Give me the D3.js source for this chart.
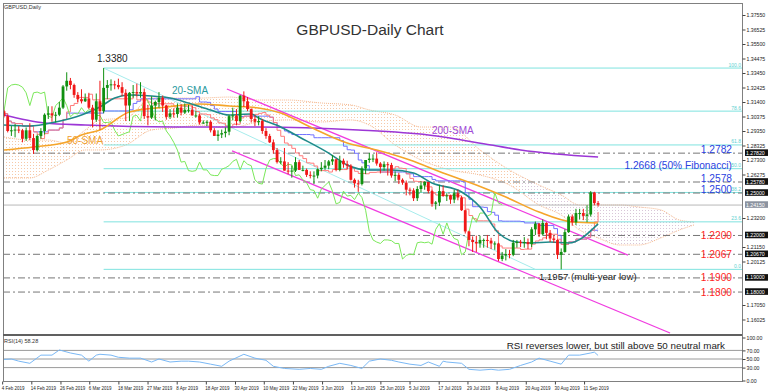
<!DOCTYPE html>
<html><head><meta charset="utf-8">
<script src="https://cdn.jsdelivr.net/npm/d3@7"></script>
<style>
body{margin:0;background:#fff}
svg{display:block;font-family:"Liberation Sans",Arial,sans-serif}
</style></head>
<body><svg id="c" width="768" height="392"></svg>
<script>
// ---------- DATA (GBPUSD daily, 4 Feb 2019 - 17 Sep 2019) ----------
const open = [1.3075,1.3040,1.2935,1.2940,1.2945,1.2940,1.2880,1.2940,1.2885,1.2800,
1.2900,1.2935,1.3050,1.3060,1.3045,1.3050,1.3100,1.3250,1.3290,1.3260,
1.3190,1.3160,1.3145,1.3165,1.3100,1.3015,1.3145,1.3075,1.3240,1.3260,
1.3265,1.3260,1.3245,1.3205,1.3115,1.3205,1.3210,1.3200,1.3210,1.3040,
1.3030,1.3115,1.3140,1.3170,1.3115,1.3035,1.3060,1.3055,1.3100,1.3065,
1.3085,1.3085,1.3045,1.3045,1.2995,1.2995,1.3000,1.2940,1.2900,1.2910,
1.2920,1.2930,1.3040,1.3045,1.3005,1.3185,1.3145,1.3090,1.3020,1.3000,
1.3005,1.2935,1.2900,1.2855,1.2800,1.2715,1.2720,1.2655,1.2650,1.2655,
1.2715,1.2660,1.2660,1.2625,1.2620,1.2620,1.2665,1.2675,1.2690,1.2720,
1.2735,1.2660,1.2725,1.2700,1.2690,1.2590,1.2565,1.2560,1.2670,1.2730,
1.2740,1.2740,1.2705,1.2680,1.2700,1.2695,1.2620,1.2625,1.2590,1.2570,
1.2520,1.2515,1.2460,1.2525,1.2550,1.2575,1.2510,1.2420,1.2430,1.2510,
1.2475,1.2480,1.2450,1.2495,1.2465,1.2375,1.2225,1.2165,1.2150,1.2140,
1.2165,1.2165,1.2160,1.2140,1.2140,1.2030,1.2055,1.2065,1.2060,1.2145,
1.2150,1.2145,1.2150,1.2135,1.2240,1.2280,1.2205,1.2285,1.2215,1.2175,
1.2165,1.2060,1.2080,1.2220,1.2330,1.2290,1.2355,1.2355,1.2335,1.2345,
1.2500,1.2425];
const high = [1.3085,1.3050,1.2970,1.2985,1.2970,1.2950,1.2960,1.2990,1.2915,1.2910,
1.2955,1.3060,1.3110,1.3110,1.3070,1.3140,1.3260,1.3350,1.3310,1.3270,
1.3210,1.3230,1.3200,1.3205,1.3120,1.3200,1.3290,1.3380,1.3295,1.3300,
1.3290,1.3305,1.3280,1.3230,1.3210,1.3260,1.3270,1.3280,1.3235,1.3120,
1.3180,1.3150,1.3210,1.3185,1.3120,1.3090,1.3095,1.3130,1.3125,1.3130,
1.3120,1.3115,1.3075,1.3055,1.3010,1.3010,1.3010,1.2955,1.2940,1.2945,
1.2960,1.3050,1.3100,1.3090,1.3190,1.3215,1.3175,1.3095,1.3045,1.3040,
1.3020,1.2955,1.2915,1.2875,1.2815,1.2750,1.2815,1.2715,1.2690,1.2750,
1.2730,1.2690,1.2670,1.2650,1.2650,1.2670,1.2715,1.2730,1.2730,1.2765,
1.2740,1.2760,1.2740,1.2725,1.2700,1.2600,1.2590,1.2685,1.2730,1.2780,
1.2770,1.2785,1.2715,1.2720,1.2715,1.2710,1.2650,1.2640,1.2600,1.2585,
1.2535,1.2530,1.2545,1.2580,1.2580,1.2575,1.2520,1.2440,1.2555,1.2550,
1.2495,1.2485,1.2520,1.2520,1.2475,1.2380,1.2230,1.2190,1.2195,1.2195,
1.2175,1.2200,1.2180,1.2155,1.2145,1.2080,1.2100,1.2095,1.2165,1.2165,
1.2165,1.2185,1.2175,1.2255,1.2295,1.2285,1.2310,1.2290,1.2235,1.2195,
1.2170,1.2105,1.2240,1.2345,1.2345,1.2385,1.2385,1.2385,1.2410,1.2510,
1.2505,1.2440];
const low = [1.3030,1.2925,1.2900,1.2890,1.2920,1.2855,1.2865,1.2870,1.2773,1.2790,
1.2880,1.2910,1.3020,1.3000,1.2995,1.3040,1.3090,1.3220,1.3230,1.3170,
1.3140,1.3130,1.3140,1.3090,1.2960,1.3000,1.2945,1.3060,1.3160,1.3220,
1.3230,1.3230,1.3180,1.3005,1.3005,1.3170,1.3180,1.3170,1.3020,1.2975,
1.3020,1.3010,1.3100,1.3070,1.3015,1.3020,1.3030,1.3030,1.3045,1.3055,
1.3065,1.3045,1.3030,1.2980,1.2985,1.2970,1.2925,1.2900,1.2865,1.2885,
1.2890,1.2905,1.3010,1.2975,1.2995,1.3105,1.3075,1.2995,1.2970,1.2975,
1.2915,1.2880,1.2850,1.2775,1.2705,1.2700,1.2655,1.2630,1.2605,1.2645,
1.2660,1.2650,1.2610,1.2600,1.2560,1.2600,1.2650,1.2660,1.2665,1.2695,
1.2650,1.2650,1.2675,1.2665,1.2585,1.2535,1.2505,1.2550,1.2630,1.2710,
1.2715,1.2690,1.2635,1.2655,1.2620,1.2605,1.2580,1.2560,1.2555,1.2480,
1.2480,1.2440,1.2440,1.2500,1.2520,1.2495,1.2400,1.2380,1.2405,1.2470,
1.2440,1.2420,1.2425,1.2445,1.2370,1.2210,1.2120,1.2080,1.2080,1.2110,
1.2110,1.2110,1.2100,1.2095,1.2015,1.2015,1.2020,1.2035,1.2050,1.2110,
1.2115,1.2110,1.2100,1.2115,1.2200,1.2185,1.2195,1.2170,1.2150,1.2145,
1.2030,1.1957,1.2075,1.2215,1.2265,1.2270,1.2310,1.2305,1.2290,1.2330,
1.2410,1.2400];
const close = [1.3040,1.2935,1.2940,1.2945,1.2940,1.2880,1.2940,1.2885,1.2800,1.2900,
1.2935,1.3050,1.3060,1.3045,1.3050,1.3100,1.3250,1.3290,1.3260,1.3190,
1.3160,1.3145,1.3165,1.3100,1.3015,1.3145,1.3075,1.3240,1.3260,1.3265,
1.3260,1.3245,1.3205,1.3115,1.3205,1.3210,1.3200,1.3210,1.3040,1.3030,
1.3115,1.3140,1.3170,1.3115,1.3035,1.3060,1.3055,1.3100,1.3065,1.3085,
1.3085,1.3045,1.3045,1.2995,1.2995,1.3000,1.2940,1.2900,1.2910,1.2920,
1.2930,1.3040,1.3045,1.3005,1.3185,1.3145,1.3090,1.3020,1.3000,1.3005,
1.2935,1.2900,1.2855,1.2800,1.2715,1.2720,1.2655,1.2650,1.2655,1.2715,
1.2660,1.2660,1.2625,1.2620,1.2620,1.2665,1.2675,1.2690,1.2720,1.2735,
1.2660,1.2725,1.2700,1.2690,1.2590,1.2565,1.2560,1.2670,1.2730,1.2740,
1.2740,1.2705,1.2680,1.2700,1.2695,1.2620,1.2625,1.2590,1.2570,1.2520,
1.2515,1.2460,1.2525,1.2550,1.2575,1.2510,1.2420,1.2430,1.2510,1.2475,
1.2480,1.2450,1.2495,1.2465,1.2375,1.2225,1.2165,1.2150,1.2140,1.2165,
1.2165,1.2160,1.2140,1.2140,1.2030,1.2055,1.2065,1.2060,1.2145,1.2150,
1.2145,1.2150,1.2135,1.2240,1.2280,1.2205,1.2285,1.2215,1.2175,1.2165,
1.2060,1.2080,1.2220,1.2330,1.2290,1.2355,1.2355,1.2335,1.2345,1.2500,
1.2425,1.2415];

// Moving averages: [bar index, price]
const sma20 = [[0,1.2977],[7,1.2970],[14,1.2999],[21,1.3048],[26,1.3105],[30,1.3168],[34,1.3189],[40,1.3182],[45,1.3168],[50,1.3133],[56,1.3083],[61,1.3048],[67,1.3055],[69,1.3027],[75,1.2963],[80,1.2893],[88,1.2779],[93,1.2695],[99,1.2659],[105,1.2659],[111,1.2638],[116,1.2567],[124,1.2504],[129,1.2398],[134,1.2214],[139,1.2150],[143,1.2143],[148,1.2150],[153,1.2143],[161,1.2278]];
const sma50 = [[0,1.2801],[8,1.2822],[17,1.2857],[21,1.2907],[26,1.2942],[34,1.3069],[44,1.3105],[53,1.3126],[61,1.3112],[69,1.3098],[75,1.3062],[83,1.2963],[93,1.2850],[101,1.2801],[110,1.2730],[119,1.2638],[128,1.2553],[136,1.2468],[145,1.2362],[154,1.2292],[161,1.2285]];
const sma200 = [[0,1.3048],[11,1.2992],[22,1.2977],[46,1.2963],[69,1.2963],[96,1.2942],[115,1.2907],[132,1.2836],[140,1.2801],[161,1.2751]];

// Ichimoku cloud
const cloudIdx = [0,7,12,17,22,26,33,40,46,53,61,69,77,86,94,99,106,113,121,129,137,145,151,156,161,167,172,178,183,187];
const spanA = [1.2893,1.2871,1.2871,1.2850,1.2942,1.3013,1.3027,1.3168,1.3168,1.3168,1.3175,1.3154,1.3154,1.3133,1.3119,1.3084,1.3048,1.2963,1.2963,1.2801,1.2659,1.2553,1.2483,1.2412,1.2412,1.2412,1.2398,1.2377,1.2306,1.2292];
const spanB = [1.2603,1.2603,1.2659,1.2730,1.2801,1.2801,1.2836,1.2942,1.2956,1.2977,1.2956,1.2999,1.3013,1.2999,1.3013,1.2977,1.2836,1.2730,1.2659,1.2624,1.2553,1.2412,1.2341,1.2235,1.2179,1.2129,1.2129,1.2179,1.2235,1.2271];
const cloudBearFrom = 140; // bar where the cloud hatch turns thistle

// RSI(14): [bar index, value]
const rsi = [[0,49],[2,50],[4,45],[7,40],[10,59],[13,59],[15,71],[18,64],[21,59],[23,45],[25,59],[26,61],[29,59],[31,54],[34,52],[37,52],[40,43],[42,50],[45,43],[48,45],[50,45],[53,43],[56,38],[59,33],[61,45],[65,61],[68,52],[71,47],[73,33],[76,28],[80,26],[83,28],[86,26],[88,33],[91,40],[94,35],[97,28],[99,45],[102,50],[105,47],[107,43],[110,38],[113,35],[115,43],[118,33],[119,45],[120,43],[124,40],[126,26],[129,24],[132,26],[134,24],[137,26],[140,35],[143,43],[145,52],[148,45],[151,38],[153,59],[156,59],[159,64],[160,66],[161,58.28]];

// Levels & annotations
const fibHigh = 1.3380, fibLow = 1.1957, fibStart = 27;
const fibRatios = [0, 23.6, 38.2, 50.0, 61.8, 78.6, 100.0];
const levels = [1.2782, 1.2578, 1.2500, 1.2200, 1.2067, 1.1900, 1.1800];
const levelText = ["1.2782","1.2578","1.2500","1.2200","1.2067","1.1900","1.1800"];
const levelColor = ["blue","blue","blue","red","red","red","red"];
const upperChannel = [[60.4,1.3232],[169.1,1.2058]];
const lowerChannel = [[61.8,1.2794],[180.5,1.1507]];
const trendLine = [[27,1.3380],[144,1.1957]];
const priceTicks = [1.37550,1.36525,1.35500,1.34475,1.33450,1.32425,1.31400,1.30375,1.29350,1.28325,1.27300,1.26275,1.25250,1.24225,1.23200,1.22175,1.21150,1.20125,1.19100,1.18075,1.17050,1.16025];
const rsiTicks = [100,70,50,30,0];
const tickLabels = ["4 Feb 2019","14 Feb 2019","26 Feb 2019","6 Mar 2019","18 Mar 2019","27 Mar 2019","8 Apr 2019","18 Apr 2019","30 Apr 2019","10 May 2019","22 May 2019","3 Jun 2019","13 Jun 2019","25 Jun 2019","5 Jul 2019","17 Jul 2019","29 Jul 2019","8 Aug 2019","20 Aug 2019","30 Aug 2019","11 Sep 2019"];
const tickBars = [-0.5,7.4,15.3,23.1,31.0,38.9,46.8,54.7,62.6,70.4,78.3,86.2,94.1,102.0,109.9,117.8,125.6,133.5,141.4,149.3,157.2];

// ---------- LAYOUT ----------
const L=3, R=742, PT=3, PB=334, RT=336, RB=381;
const svg = d3.select("#c");
const x = d3.scaleLinear().domain([0,1]).range([4,7.69]);
const y = d3.scaleLinear().domain([1.16025,1.37550]).range([319.5,15]);
const yr = d3.scaleLinear().domain([0,100]).range([380.5,337.5]);
const BLUE="#2b3fe0", RED="#ff1f1f";

const defs = svg.append("defs");
defs.append("clipPath").attr("id","pc").append("rect").attr("x",L).attr("y",PT).attr("width",R-L).attr("height",PB-PT);
defs.append("clipPath").attr("id","rc").append("rect").attr("x",L).attr("y",RT).attr("width",R-L).attr("height",RB-RT);
defs.append("clipPath").attr("id","cBull").append("rect").attr("x",0).attr("y",0).attr("width",x(cloudBearFrom)).attr("height",392);
defs.append("clipPath").attr("id","cBear").append("rect").attr("x",x(cloudBearFrom)).attr("y",0).attr("width",768).attr("height",392);
const pat = defs.append("pattern").attr("id","dots").attr("width",3).attr("height",3).attr("patternUnits","userSpaceOnUse");
pat.append("rect").attr("width",1).attr("height",1).attr("fill","#f6c9a8");
const pat2 = defs.append("pattern").attr("id","dots2").attr("width",3).attr("height",3).attr("patternUnits","userSpaceOnUse");
pat2.append("rect").attr("width",1).attr("height",1).attr("fill","#d8c6d8");

const g = svg.append("g").attr("clip-path","url(#pc)");

// Cloud
const cloud = cloudIdx.map((d,i)=>({i:d,a:spanA[i],b:spanB[i]}));
const cloudArea = d3.area().x(d=>x(d.i)).y0(d=>y(d.a)).y1(d=>y(d.b)).curve(d3.curveMonotoneX);
g.append("g").attr("clip-path","url(#cBull)").append("path").datum(cloud).attr("d", cloudArea).attr("fill","url(#dots)");
g.append("g").attr("clip-path","url(#cBear)").append("path").datum(cloud).attr("d", cloudArea).attr("fill","url(#dots2)");
g.append("path").datum(cloud).attr("d", d3.line().x(d=>x(d.i)).y(d=>y(d.a)).curve(d3.curveMonotoneX))
  .attr("fill","none").attr("stroke","#f6b88e").attr("stroke-width",1).attr("stroke-dasharray","1,1");
g.append("path").datum(cloud).attr("d", d3.line().x(d=>x(d.i)).y(d=>y(d.b)).curve(d3.curveMonotoneX))
  .attr("fill","none").attr("stroke","#f6b88e").attr("stroke-width",1).attr("stroke-dasharray","1,1");

// Fibonacci lines
fibRatios.forEach(r=>{
  const p = fibLow + (fibHigh-fibLow)*r/100;
  g.append("line").attr("x1",x(fibStart)).attr("x2",R).attr("y1",y(p)).attr("y2",y(p))
    .attr("stroke","#7fe3df").attr("stroke-width",1);
});
// Thin trend line from the high
g.append("line").attr("x1",x(trendLine[0][0])).attr("y1",y(trendLine[0][1]))
  .attr("x2",x(trendLine[1][0])).attr("y2",y(trendLine[1][1]))
  .attr("stroke","#a6ecec").attr("stroke-width",1);

// Horizontal levels (dash-dot)
levels.forEach(p=>{
  g.append("line").attr("x1",L).attr("x2",R).attr("y1",y(p)+0.5).attr("y2",y(p)+0.5)
    .attr("stroke","#777").attr("stroke-width",1).attr("stroke-dasharray","7,3,2,3");
});
// Bid line
g.append("line").attr("x1",L).attr("x2",R).attr("y1",y(close[close.length-1])+0.5).attr("y2",y(close[close.length-1])+0.5)
  .attr("stroke","#b8b8b8").attr("stroke-width",1);

// Channel lines
[upperChannel, lowerChannel].forEach(c=>{
  g.append("line").attr("x1",x(c[0][0])).attr("y1",y(c[0][1])).attr("x2",x(c[1][0])).attr("y2",y(c[1][1]))
    .attr("stroke","#f03ce0").attr("stroke-width",1.3);
});

// Ichimoku tenkan/kijun/chikou from OHLC
function mid(n){return close.map((_,i)=>{const s=Math.max(0,i-n+1);return (d3.max(high.slice(s,i+1))+d3.min(low.slice(s,i+1)))/2;});}
const tenkan = mid(9), kijun = mid(26);
const ln = d3.line().x(d=>x(d[0])).y(d=>y(d[1]));
g.append("path").datum(kijun.map((v,i)=>[i,v])).attr("d",ln.curve(d3.curveStepAfter)).attr("fill","none").attr("stroke","#7070ff").attr("stroke-width",1);
g.append("path").datum(tenkan.map((v,i)=>[i,v])).attr("d",ln.curve(d3.curveStepAfter)).attr("fill","none").attr("stroke","#ff7a7a").attr("stroke-width",1);
g.append("path").datum(close.map((v,i)=>[i-26,v])).attr("d",d3.line().x(d=>x(d[0])).y(d=>y(d[1]))).attr("fill","none").attr("stroke","#7be85a").attr("stroke-width",1);

// SMAs
const sm = d3.line().x(d=>x(d[0])).y(d=>y(d[1])).curve(d3.curveMonotoneX);
g.append("path").datum(sma200).attr("d",sm).attr("fill","none").attr("stroke","#9c36d6").attr("stroke-width",1.6);
g.append("path").datum(sma50).attr("d",sm).attr("fill","none").attr("stroke","#f5a52a").attr("stroke-width",1.6);
g.append("path").datum(sma20).attr("d",sm).attr("fill","none").attr("stroke","#1f8a8a").attr("stroke-width",1.6);

// Candles
const idx = d3.range(close.length);
const cg = g.append("g");
idx.forEach(i=>{
  const up = close[i]>=open[i], col = up?"#109010":"#f01818";
  cg.append("line").attr("x1",x(i)).attr("x2",x(i)).attr("y1",y(high[i])).attr("y2",y(low[i])).attr("stroke",col).attr("stroke-width",1);
  const y0=y(Math.max(open[i],close[i])), y1=y(Math.min(open[i],close[i]));
  cg.append("rect").attr("x",x(i)-1.4).attr("width",2.8).attr("y",y0).attr("height",Math.max(1,y1-y0)).attr("fill",col);
});

// ---------- TEXT ----------
svg.append("text").attr("x",4).attr("y",9).attr("font-size",5.5).attr("fill","#333").text("GBPUSD,Daily");
svg.append("text").attr("x",370).attr("y",35).attr("text-anchor","middle").attr("font-size",15.5).attr("fill","#333").text("GBPUSD-Daily Chart");
svg.append("text").attr("x",97).attr("y",62).attr("font-size",10).attr("fill","#222").text("1.3380");
svg.append("text").attr("x",172).attr("y",94).attr("font-size",10).attr("fill","#2a9aa0").text("20-SMA");
svg.append("text").attr("x",67).attr("y",144).attr("font-size",10).attr("fill","#f0a030").text("50-SMA");
svg.append("text").attr("x",432).attr("y",134).attr("font-size",10).attr("fill","#a04ad8").text("200-SMA");
svg.append("text").attr("x",539).attr("y",280).attr("font-size",9.6).attr("fill","#222").text("1.1957 (multi-year low)");
levels.forEach((p,i)=>{
  svg.append("text").attr("x",732).attr("y",y(p)+(levelColor[i]==="blue"?0:4)).attr("text-anchor","end").attr("font-size",10.2)
    .attr("fill",levelColor[i]==="blue"?BLUE:RED).text(levelText[i]);
});
svg.append("text").attr("x",732).attr("y",y(fibLow+(fibHigh-fibLow)*0.5)).attr("text-anchor","end").attr("font-size",10.2).attr("fill",BLUE).text("1.2668 (50% Fibonacci)");
fibRatios.forEach(r=>{
  const p = fibLow + (fibHigh-fibLow)*r/100;
  svg.append("text").attr("x",741).attr("y",y(p)-1.5).attr("text-anchor","end").attr("font-size",5).attr("fill","#5ed0d0").text(r.toFixed(1));
});

// ---------- RSI PANEL ----------
const rg = svg.append("g").attr("clip-path","url(#rc)");
[70,50,30].forEach(v=>rg.append("line").attr("x1",L).attr("x2",R).attr("y1",yr(v)).attr("y2",yr(v)).attr("stroke","#9a9a9a").attr("stroke-width",1));
rg.append("path").datum(rsi).attr("d",d3.line().x(d=>x(d[0])).y(d=>yr(d[1]))).attr("fill","none").attr("stroke","#7ab8f5").attr("stroke-width",1);
svg.append("text").attr("x",4).attr("y",343).attr("font-size",5.5).attr("fill","#333").text("RSI(14) 58.28");
svg.append("text").attr("x",725).attr("y",349).attr("text-anchor","end").attr("font-size",9.8).attr("fill","#222").text("RSI reverses lower, but still above 50 neutral mark");

// ---------- FRAME & AXES ----------
svg.append("rect").attr("x",L+0.5).attr("y",PT+0.5).attr("width",R-L).attr("height",RB-PT).attr("fill","none").attr("stroke","#808080");
svg.append("line").attr("x1",L).attr("x2",R).attr("y1",335).attr("y2",335).attr("stroke","#606060").attr("stroke-width",2);

const boxed = levels.concat([close[close.length-1]]);
const ya = svg.append("g").attr("transform",`translate(${R+0.5},0)`)
  .call(d3.axisRight(y).tickValues(priceTicks.filter(t=>boxed.every(b=>Math.abs(y(t)-y(b))>6))).tickSize(3).tickFormat(d3.format(".5f")));
ya.select(".domain").remove();
ya.selectAll("text").attr("font-size",5.2).attr("fill","#222").attr("x",4);
ya.selectAll("line").attr("stroke","#444");

const ra = svg.append("g").attr("transform",`translate(${R+0.5},0)`)
  .call(d3.axisRight(yr).tickValues(rsiTicks).tickSize(3).tickFormat(d3.format(".2f")));
ra.select(".domain").remove();
ra.selectAll("text").attr("font-size",5.2).attr("fill","#222").attr("x",4);
ra.selectAll("line").attr("stroke","#444");

// Price labels on right axis
levels.forEach(p=>{
  const yy=y(p);
  svg.append("rect").attr("x",R+3).attr("y",yy-3.3).attr("width",23).attr("height",6.6).attr("fill","#111");
  svg.append("text").attr("x",R+4).attr("y",yy+2).attr("font-size",5.2).attr("fill","#fff").text(p.toFixed(5));
});
{
  const p=close[close.length-1], yy=y(p);
  svg.append("rect").attr("x",R+3).attr("y",yy-3.3).attr("width",23).attr("height",6.6).attr("fill","#8c93a0");
  svg.append("text").attr("x",R+4).attr("y",yy+2).attr("font-size",5.2).attr("fill","#fff").text(p.toFixed(5));
}

const xa = svg.append("g").attr("transform",`translate(0,${RB+0.5})`)
  .call(d3.axisBottom(x).tickValues(tickBars).tickSize(3).tickFormat((d,i)=>tickLabels[i]));
xa.select(".domain").remove();
xa.selectAll("text").attr("font-size",4.5).attr("fill","#222").attr("text-anchor","start").attr("dx",-1).attr("y",5);
xa.selectAll("line").attr("stroke","#444");
</script>
</body></html>
